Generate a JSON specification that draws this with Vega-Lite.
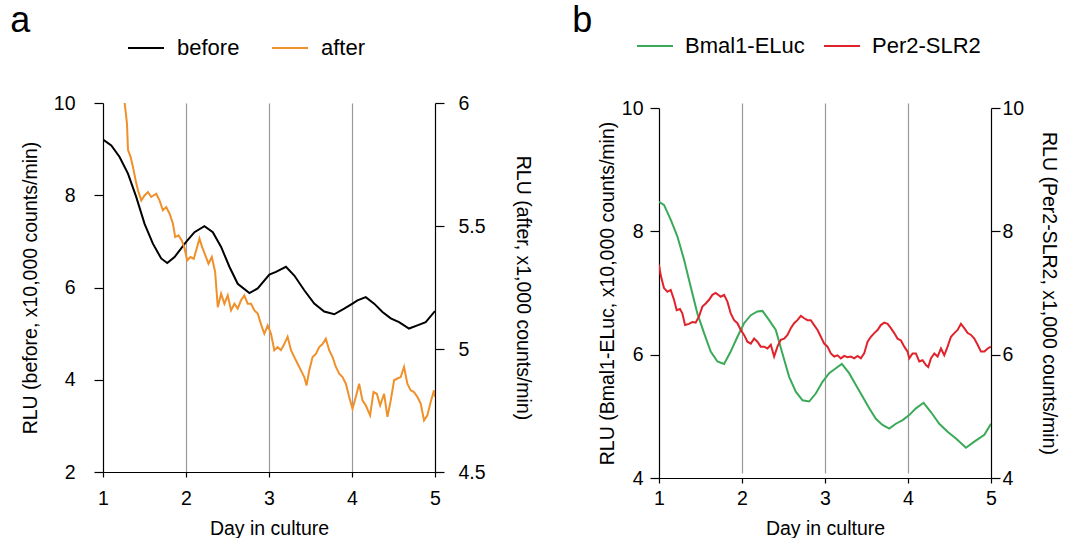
{
  "$schema": "https://vega.github.io/schema/vega-lite/v6.json",
  "padding": {"left": 10, "top": 3, "right": 0, "bottom": 0},
  "background": "white",
  "config": {
    "font": "Liberation Sans",
    "view": {"stroke": null},
    "axis": {"domainColor": "#000", "tickColor": "#000", "labelColor": "#000", "titleColor": "#000", "labelFont": "Liberation Sans", "titleFont": "Liberation Sans", "labelFontSize": 19.5, "titleFontSize": 19.5, "titleFontWeight": "normal", "domainWidth": 1.2, "tickWidth": 1.2, "grid": false},
    "legend": {"labelFont": "Liberation Sans", "labelFontSize": 22, "labelColor": "#000"},
    "title": {"font": "Liberation Sans", "fontWeight": "normal", "fontSize": 36, "color": "#000"}
  },
  "datasets": {
    "a": [
      {"day":1.0,"series":"before","rlu":9.21},{"day":1.1,"series":"before","rlu":9.08},{"day":1.2,"series":"before","rlu":8.83},{"day":1.301,"series":"before","rlu":8.47},{"day":1.401,"series":"before","rlu":7.96},{"day":1.501,"series":"before","rlu":7.38},{"day":1.601,"series":"before","rlu":6.95},{"day":1.701,"series":"before","rlu":6.63},{"day":1.774,"series":"before","rlu":6.53},{"day":1.862,"series":"before","rlu":6.66},{"day":2.002,"series":"before","rlu":6.99},{"day":2.102,"series":"before","rlu":7.2},{"day":2.222,"series":"before","rlu":7.33},{"day":2.323,"series":"before","rlu":7.2},{"day":2.423,"series":"before","rlu":6.88},{"day":2.523,"series":"before","rlu":6.45},{"day":2.623,"series":"before","rlu":6.08},{"day":2.764,"series":"before","rlu":5.88},{"day":2.864,"series":"before","rlu":5.98},{"day":3.004,"series":"before","rlu":6.28},{"day":3.084,"series":"before","rlu":6.34},{"day":3.204,"series":"before","rlu":6.45},{"day":3.305,"series":"before","rlu":6.26},{"day":3.425,"series":"before","rlu":5.94},{"day":3.545,"series":"before","rlu":5.65},{"day":3.665,"series":"before","rlu":5.48},{"day":3.786,"series":"before","rlu":5.42},{"day":3.906,"series":"before","rlu":5.54},{"day":4.006,"series":"before","rlu":5.65},{"day":4.066,"series":"before","rlu":5.72},{"day":4.166,"series":"before","rlu":5.79},{"day":4.267,"series":"before","rlu":5.65},{"day":4.367,"series":"before","rlu":5.47},{"day":4.467,"series":"before","rlu":5.33},{"day":4.567,"series":"before","rlu":5.25},{"day":4.687,"series":"before","rlu":5.11},{"day":4.788,"series":"before","rlu":5.18},{"day":4.888,"series":"before","rlu":5.25},{"day":5.0,"series":"before","rlu":5.49},
      {"day":1.22,"series":"after","rlu":6.25},{"day":1.261,"series":"after","rlu":6.0},{"day":1.289,"series":"after","rlu":5.916},{"day":1.301,"series":"after","rlu":5.81},{"day":1.333,"series":"after","rlu":5.78},{"day":1.361,"series":"after","rlu":5.74},{"day":1.393,"series":"after","rlu":5.686},{"day":1.421,"series":"after","rlu":5.645},{"day":1.461,"series":"after","rlu":5.604},{"day":1.501,"series":"after","rlu":5.624},{"day":1.541,"series":"after","rlu":5.638},{"day":1.581,"series":"after","rlu":5.618},{"day":1.641,"series":"after","rlu":5.631},{"day":1.681,"series":"after","rlu":5.604},{"day":1.721,"series":"after","rlu":5.564},{"day":1.762,"series":"after","rlu":5.577},{"day":1.802,"series":"after","rlu":5.55},{"day":1.842,"series":"after","rlu":5.51},{"day":1.87,"series":"after","rlu":5.455},{"day":1.91,"series":"after","rlu":5.462},{"day":1.95,"series":"after","rlu":5.44},{"day":1.982,"series":"after","rlu":5.41},{"day":2.014,"series":"after","rlu":5.36},{"day":2.054,"series":"after","rlu":5.374},{"day":2.094,"series":"after","rlu":5.367},{"day":2.134,"series":"after","rlu":5.415},{"day":2.162,"series":"after","rlu":5.449},{"day":2.194,"series":"after","rlu":5.415},{"day":2.234,"series":"after","rlu":5.38},{"day":2.271,"series":"after","rlu":5.347},{"day":2.311,"series":"after","rlu":5.374},{"day":2.351,"series":"after","rlu":5.313},{"day":2.383,"series":"after","rlu":5.17},{"day":2.423,"series":"after","rlu":5.225},{"day":2.463,"series":"after","rlu":5.184},{"day":2.503,"series":"after","rlu":5.218},{"day":2.543,"series":"after","rlu":5.157},{"day":2.583,"series":"after","rlu":5.184},{"day":2.623,"series":"after","rlu":5.164},{"day":2.663,"series":"after","rlu":5.198},{"day":2.703,"series":"after","rlu":5.218},{"day":2.743,"series":"after","rlu":5.184},{"day":2.784,"series":"after","rlu":5.184},{"day":2.824,"series":"after","rlu":5.157},{"day":2.864,"series":"after","rlu":5.144},{"day":2.904,"series":"after","rlu":5.1},{"day":2.944,"series":"after","rlu":5.062},{"day":2.984,"series":"after","rlu":5.096},{"day":3.024,"series":"after","rlu":5.062},{"day":3.064,"series":"after","rlu":4.995},{"day":3.104,"series":"after","rlu":5.008},{"day":3.144,"series":"after","rlu":4.995},{"day":3.184,"series":"after","rlu":5.02},{"day":3.224,"series":"after","rlu":5.05},{"day":3.265,"series":"after","rlu":4.995},{"day":3.305,"series":"after","rlu":4.967},{"day":3.345,"series":"after","rlu":4.94},{"day":3.385,"series":"after","rlu":4.913},{"day":3.425,"series":"after","rlu":4.886},{"day":3.453,"series":"after","rlu":4.852},{"day":3.485,"series":"after","rlu":4.913},{"day":3.525,"series":"after","rlu":4.967},{"day":3.565,"series":"after","rlu":4.98},{"day":3.605,"series":"after","rlu":5.008},{"day":3.645,"series":"after","rlu":5.02},{"day":3.685,"series":"after","rlu":5.042},{"day":3.725,"series":"after","rlu":4.995},{"day":3.766,"series":"after","rlu":4.967},{"day":3.806,"series":"after","rlu":4.927},{"day":3.846,"series":"after","rlu":4.9},{"day":3.886,"series":"after","rlu":4.886},{"day":3.926,"series":"after","rlu":4.859},{"day":3.966,"series":"after","rlu":4.805},{"day":4.006,"series":"after","rlu":4.757},{"day":4.046,"series":"after","rlu":4.805},{"day":4.086,"series":"after","rlu":4.859},{"day":4.126,"series":"after","rlu":4.791},{"day":4.166,"series":"after","rlu":4.771},{"day":4.218,"series":"after","rlu":4.73},{"day":4.259,"series":"after","rlu":4.825},{"day":4.299,"series":"after","rlu":4.818},{"day":4.339,"series":"after","rlu":4.771},{"day":4.387,"series":"after","rlu":4.818},{"day":4.427,"series":"after","rlu":4.724},{"day":4.467,"series":"after","rlu":4.791},{"day":4.507,"series":"after","rlu":4.873},{"day":4.547,"series":"after","rlu":4.88},{"day":4.587,"series":"after","rlu":4.886},{"day":4.627,"series":"after","rlu":4.927},{"day":4.667,"series":"after","rlu":4.859},{"day":4.707,"series":"after","rlu":4.832},{"day":4.747,"series":"after","rlu":4.825},{"day":4.788,"series":"after","rlu":4.805},{"day":4.828,"series":"after","rlu":4.778},{"day":4.868,"series":"after","rlu":4.71},{"day":4.908,"series":"after","rlu":4.73},{"day":4.948,"series":"after","rlu":4.785},{"day":4.988,"series":"after","rlu":4.832},{"day":5.0,"series":"after","rlu":4.805}
    ],
    "b": [
      {"day":1.0,"series":"Bmal1-ELuc","rlu":8.48},{"day":1.06,"series":"Bmal1-ELuc","rlu":8.43},{"day":1.141,"series":"Bmal1-ELuc","rlu":8.19},{"day":1.221,"series":"Bmal1-ELuc","rlu":7.92},{"day":1.302,"series":"Bmal1-ELuc","rlu":7.54},{"day":1.382,"series":"Bmal1-ELuc","rlu":7.1},{"day":1.462,"series":"Bmal1-ELuc","rlu":6.67},{"day":1.543,"series":"Bmal1-ELuc","rlu":6.35},{"day":1.623,"series":"Bmal1-ELuc","rlu":6.05},{"day":1.704,"series":"Bmal1-ELuc","rlu":5.89},{"day":1.784,"series":"Bmal1-ELuc","rlu":5.85},{"day":1.864,"series":"Bmal1-ELuc","rlu":6.05},{"day":1.945,"series":"Bmal1-ELuc","rlu":6.29},{"day":2.025,"series":"Bmal1-ELuc","rlu":6.51},{"day":2.106,"series":"Bmal1-ELuc","rlu":6.64},{"day":2.186,"series":"Bmal1-ELuc","rlu":6.7},{"day":2.246,"series":"Bmal1-ELuc","rlu":6.71},{"day":2.327,"series":"Bmal1-ELuc","rlu":6.56},{"day":2.407,"series":"Bmal1-ELuc","rlu":6.4},{"day":2.487,"series":"Bmal1-ELuc","rlu":6.02},{"day":2.568,"series":"Bmal1-ELuc","rlu":5.64},{"day":2.648,"series":"Bmal1-ELuc","rlu":5.4},{"day":2.729,"series":"Bmal1-ELuc","rlu":5.26},{"day":2.809,"series":"Bmal1-ELuc","rlu":5.24},{"day":2.889,"series":"Bmal1-ELuc","rlu":5.37},{"day":2.97,"series":"Bmal1-ELuc","rlu":5.56},{"day":3.05,"series":"Bmal1-ELuc","rlu":5.7},{"day":3.131,"series":"Bmal1-ELuc","rlu":5.78},{"day":3.203,"series":"Bmal1-ELuc","rlu":5.85},{"day":3.291,"series":"Bmal1-ELuc","rlu":5.7},{"day":3.372,"series":"Bmal1-ELuc","rlu":5.51},{"day":3.452,"series":"Bmal1-ELuc","rlu":5.32},{"day":3.533,"series":"Bmal1-ELuc","rlu":5.13},{"day":3.613,"series":"Bmal1-ELuc","rlu":4.96},{"day":3.693,"series":"Bmal1-ELuc","rlu":4.86},{"day":3.774,"series":"Bmal1-ELuc","rlu":4.8},{"day":3.854,"series":"Bmal1-ELuc","rlu":4.88},{"day":3.935,"series":"Bmal1-ELuc","rlu":4.94},{"day":4.015,"series":"Bmal1-ELuc","rlu":5.02},{"day":4.095,"series":"Bmal1-ELuc","rlu":5.13},{"day":4.188,"series":"Bmal1-ELuc","rlu":5.22},{"day":4.276,"series":"Bmal1-ELuc","rlu":5.07},{"day":4.377,"series":"Bmal1-ELuc","rlu":4.88},{"day":4.477,"series":"Bmal1-ELuc","rlu":4.75},{"day":4.578,"series":"Bmal1-ELuc","rlu":4.64},{"day":4.698,"series":"Bmal1-ELuc","rlu":4.49},{"day":4.799,"series":"Bmal1-ELuc","rlu":4.59},{"day":4.92,"series":"Bmal1-ELuc","rlu":4.7},{"day":5.0,"series":"Bmal1-ELuc","rlu":4.88},
      {"day":1.0,"series":"Per2-SLR2","rlu":7.46},{"day":1.02,"series":"Per2-SLR2","rlu":7.29},{"day":1.06,"series":"Per2-SLR2","rlu":7.08},{"day":1.101,"series":"Per2-SLR2","rlu":7.02},{"day":1.141,"series":"Per2-SLR2","rlu":7.05},{"day":1.181,"series":"Per2-SLR2","rlu":6.89},{"day":1.213,"series":"Per2-SLR2","rlu":6.72},{"day":1.253,"series":"Per2-SLR2","rlu":6.74},{"day":1.281,"series":"Per2-SLR2","rlu":6.67},{"day":1.314,"series":"Per2-SLR2","rlu":6.48},{"day":1.362,"series":"Per2-SLR2","rlu":6.5},{"day":1.402,"series":"Per2-SLR2","rlu":6.53},{"day":1.442,"series":"Per2-SLR2","rlu":6.52},{"day":1.482,"series":"Per2-SLR2","rlu":6.62},{"day":1.523,"series":"Per2-SLR2","rlu":6.78},{"day":1.563,"series":"Per2-SLR2","rlu":6.83},{"day":1.603,"series":"Per2-SLR2","rlu":6.89},{"day":1.643,"series":"Per2-SLR2","rlu":6.97},{"day":1.683,"series":"Per2-SLR2","rlu":7.0},{"day":1.744,"series":"Per2-SLR2","rlu":6.94},{"day":1.784,"series":"Per2-SLR2","rlu":6.97},{"day":1.824,"series":"Per2-SLR2","rlu":6.86},{"day":1.864,"series":"Per2-SLR2","rlu":6.67},{"day":1.905,"series":"Per2-SLR2","rlu":6.56},{"day":1.945,"series":"Per2-SLR2","rlu":6.51},{"day":1.985,"series":"Per2-SLR2","rlu":6.4},{"day":2.025,"series":"Per2-SLR2","rlu":6.32},{"day":2.065,"series":"Per2-SLR2","rlu":6.21},{"day":2.106,"series":"Per2-SLR2","rlu":6.18},{"day":2.146,"series":"Per2-SLR2","rlu":6.26},{"day":2.186,"series":"Per2-SLR2","rlu":6.21},{"day":2.226,"series":"Per2-SLR2","rlu":6.13},{"day":2.266,"series":"Per2-SLR2","rlu":6.13},{"day":2.307,"series":"Per2-SLR2","rlu":6.1},{"day":2.347,"series":"Per2-SLR2","rlu":6.16},{"day":2.387,"series":"Per2-SLR2","rlu":5.97},{"day":2.427,"series":"Per2-SLR2","rlu":6.13},{"day":2.467,"series":"Per2-SLR2","rlu":6.24},{"day":2.508,"series":"Per2-SLR2","rlu":6.26},{"day":2.548,"series":"Per2-SLR2","rlu":6.32},{"day":2.588,"series":"Per2-SLR2","rlu":6.43},{"day":2.628,"series":"Per2-SLR2","rlu":6.51},{"day":2.668,"series":"Per2-SLR2","rlu":6.56},{"day":2.709,"series":"Per2-SLR2","rlu":6.63},{"day":2.749,"series":"Per2-SLR2","rlu":6.59},{"day":2.789,"series":"Per2-SLR2","rlu":6.56},{"day":2.829,"series":"Per2-SLR2","rlu":6.56},{"day":2.869,"series":"Per2-SLR2","rlu":6.48},{"day":2.91,"series":"Per2-SLR2","rlu":6.4},{"day":2.95,"series":"Per2-SLR2","rlu":6.29},{"day":2.99,"series":"Per2-SLR2","rlu":6.18},{"day":3.03,"series":"Per2-SLR2","rlu":6.13},{"day":3.07,"series":"Per2-SLR2","rlu":6.02},{"day":3.111,"series":"Per2-SLR2","rlu":5.97},{"day":3.151,"series":"Per2-SLR2","rlu":5.99},{"day":3.191,"series":"Per2-SLR2","rlu":5.94},{"day":3.231,"series":"Per2-SLR2","rlu":5.98},{"day":3.271,"series":"Per2-SLR2","rlu":5.96},{"day":3.312,"series":"Per2-SLR2","rlu":5.97},{"day":3.352,"series":"Per2-SLR2","rlu":5.94},{"day":3.392,"series":"Per2-SLR2","rlu":5.98},{"day":3.432,"series":"Per2-SLR2","rlu":5.94},{"day":3.472,"series":"Per2-SLR2","rlu":6.02},{"day":3.513,"series":"Per2-SLR2","rlu":6.21},{"day":3.553,"series":"Per2-SLR2","rlu":6.29},{"day":3.593,"series":"Per2-SLR2","rlu":6.35},{"day":3.633,"series":"Per2-SLR2","rlu":6.4},{"day":3.673,"series":"Per2-SLR2","rlu":6.48},{"day":3.714,"series":"Per2-SLR2","rlu":6.52},{"day":3.754,"series":"Per2-SLR2","rlu":6.5},{"day":3.794,"series":"Per2-SLR2","rlu":6.43},{"day":3.834,"series":"Per2-SLR2","rlu":6.35},{"day":3.874,"series":"Per2-SLR2","rlu":6.26},{"day":3.915,"series":"Per2-SLR2","rlu":6.23},{"day":3.955,"series":"Per2-SLR2","rlu":6.13},{"day":3.995,"series":"Per2-SLR2","rlu":6.05},{"day":4.015,"series":"Per2-SLR2","rlu":5.94},{"day":4.055,"series":"Per2-SLR2","rlu":6.02},{"day":4.095,"series":"Per2-SLR2","rlu":6.02},{"day":4.136,"series":"Per2-SLR2","rlu":5.89},{"day":4.176,"series":"Per2-SLR2","rlu":5.91},{"day":4.216,"series":"Per2-SLR2","rlu":5.83},{"day":4.244,"series":"Per2-SLR2","rlu":5.8},{"day":4.276,"series":"Per2-SLR2","rlu":5.94},{"day":4.317,"series":"Per2-SLR2","rlu":6.02},{"day":4.357,"series":"Per2-SLR2","rlu":5.97},{"day":4.397,"series":"Per2-SLR2","rlu":6.1},{"day":4.437,"series":"Per2-SLR2","rlu":5.99},{"day":4.477,"series":"Per2-SLR2","rlu":6.13},{"day":4.518,"series":"Per2-SLR2","rlu":6.29},{"day":4.558,"series":"Per2-SLR2","rlu":6.35},{"day":4.598,"series":"Per2-SLR2","rlu":6.4},{"day":4.638,"series":"Per2-SLR2","rlu":6.5},{"day":4.678,"series":"Per2-SLR2","rlu":6.43},{"day":4.719,"series":"Per2-SLR2","rlu":6.35},{"day":4.759,"series":"Per2-SLR2","rlu":6.32},{"day":4.799,"series":"Per2-SLR2","rlu":6.26},{"day":4.839,"series":"Per2-SLR2","rlu":6.16},{"day":4.879,"series":"Per2-SLR2","rlu":6.05},{"day":4.92,"series":"Per2-SLR2","rlu":6.05},{"day":4.96,"series":"Per2-SLR2","rlu":6.1},{"day":5.0,"series":"Per2-SLR2","rlu":6.13}
    ]
  },
  "hconcat": [
    {
      "width": 332,
      "height": 369,
      "title": {"text": "a", "anchor": "start", "frame": "bounds", "dx": -10, "offset": -11},
      "data": {"name": "a"},
      "layer": [
        {
          "transform": [{"filter": "datum.series == 'before'"}],
          "mark": {"type": "line", "strokeWidth": 2, "clip": true},
          "encoding": {
            "x": {"field": "day", "type": "quantitative", "scale": {"domain": [1, 5], "nice": false, "zero": false},
                  "axis": {"values": [1, 2, 3, 4, 5], "format": "~g", "title": "Day in culture", "grid": true, "gridColor": "#999999", "gridWidth": 1.2,
                           "gridOpacity": {"condition": {"test": "datum.value == 1 || datum.value == 5", "value": 0}, "value": 1},
                           "tickSize": 5, "labelPadding": 12, "titlePadding": 12, "labelFlush": false}},
            "y": {"field": "rlu", "type": "quantitative", "scale": {"domain": [2, 10], "nice": false, "zero": false},
                  "axis": {"values": [2, 4, 6, 8, 10], "title": "RLU (before, x10,000 counts/min)", "tickSize": 9, "labelPadding": 19, "titlePadding": 13}},
            "color": {"field": "series", "type": "nominal", "scale": {"domain": ["before", "after"], "range": ["#000000", "#F0902A"]},
                      "legend": {"orient": "none", "legendX": 24, "legendY": -74, "direction": "horizontal", "columns": 2, "title": null,
                                 "symbolType": "stroke", "symbolSize": 1296, "symbolStrokeWidth": 2, "labelOffset": 12, "columnPadding": 28}}
          }
        },
        {
          "transform": [{"filter": "datum.series == 'after'"}],
          "mark": {"type": "line", "strokeWidth": 2, "clip": true},
          "encoding": {
            "x": {"field": "day", "type": "quantitative"},
            "y": {"field": "rlu", "type": "quantitative", "scale": {"domain": [4.5, 6], "nice": false, "zero": false},
                  "axis": {"orient": "right", "values": [4.5, 5, 5.5, 6], "format": "~g", "title": "RLU (after, x1,000 counts/min)", "tickSize": 9, "labelPadding": 14, "titlePadding": 27}},
            "color": {"field": "series", "type": "nominal"}
          }
        }
      ],
      "resolve": {"scale": {"y": "independent"}}
    },
    {
      "width": 332,
      "height": 375,
      "title": {"text": "b", "anchor": "start", "frame": "bounds", "dx": -25, "offset": -13},
      "data": {"name": "b"},
      "layer": [
        {
          "transform": [{"filter": "datum.series == 'Bmal1-ELuc'"}],
          "mark": {"type": "line", "strokeWidth": 2, "clip": true},
          "encoding": {
            "x": {"field": "day", "type": "quantitative", "scale": {"domain": [1, 5], "nice": false, "zero": false},
                  "axis": {"values": [1, 2, 3, 4, 5], "format": "~g", "title": "Day in culture", "grid": true, "gridColor": "#999999", "gridWidth": 1.2,
                           "gridOpacity": {"condition": {"test": "datum.value == 1 || datum.value == 5", "value": 0}, "value": 1},
                           "tickSize": 5, "labelPadding": 6, "titlePadding": 12, "labelFlush": false}},
            "y": {"field": "rlu", "type": "quantitative", "scale": {"domain": [4, 10], "nice": false, "zero": false, "range": [375, 5]},
                  "axis": {"values": [4, 6, 8, 10], "title": "RLU (Bmal1-ELuc, x10,000 counts/min)", "tickSize": 9, "labelPadding": 7, "titlePadding": 4}},
            "color": {"field": "series", "type": "nominal", "scale": {"domain": ["Bmal1-ELuc", "Per2-SLR2"], "range": ["#3AAA58", "#E0232B"]},
                      "legend": {"orient": "none", "legendX": -23, "legendY": -76, "direction": "horizontal", "columns": 2, "title": null,
                                 "symbolType": "stroke", "symbolSize": 1296, "symbolStrokeWidth": 2, "labelOffset": 11, "columnPadding": 15}}
          }
        },
        {
          "transform": [{"filter": "datum.series == 'Per2-SLR2'"}],
          "mark": {"type": "line", "strokeWidth": 2, "clip": true},
          "encoding": {
            "x": {"field": "day", "type": "quantitative"},
            "y": {"field": "rlu", "type": "quantitative", "scale": {"domain": [4, 10], "nice": false, "zero": false, "range": [375, 5]},
                  "axis": {"orient": "right", "values": [4, 6, 8, 10], "title": "RLU (Per2-SLR2, x1,000 counts/min)", "tickSize": 9, "labelPadding": 2, "titlePadding": 15}},
            "color": {"field": "series", "type": "nominal"}
          }
        }
      ],
      "resolve": {"scale": {"y": "independent"}}
    }
  ],
  "spacing": 39,
  "resolve": {"scale": {"color": "independent"}, "legend": {"color": "independent"}}
}
